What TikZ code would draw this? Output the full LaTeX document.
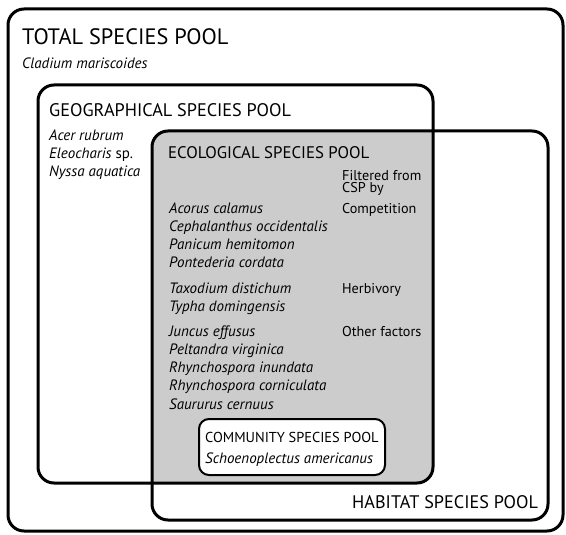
\documentclass[tikz,border=0pt]{standalone}
\usepackage{fontspec}
\setmainfont{PT Sans}
\tikzset{
  poolbox/.style={line width=3pt, rounded corners=16pt},
  bigtitle/.style={anchor=base west, inner sep=0pt, font=\fontsize{22.3}{26}\selectfont},
  pooltitle/.style={anchor=base west, inner sep=0pt, font=\fontsize{18.2}{22}\selectfont},
  smalltitle/.style={anchor=base west, inner sep=0pt, font=\fontsize{16.8}{20}\selectfont},
  species/.style={anchor=base west, inner sep=0pt, font=\fontsize{15}{17}\selectfont\itshape},
  factor/.style={anchor=base west, inner sep=0pt, font=\fontsize{14.2}{16}\selectfont},
}
\begin{document}
\begin{tikzpicture}[x=1pt, y=-1pt]
        \useasboundingbox (0,0) rectangle (566,535);
        % total pool
        \draw [poolbox] (8,9) rectangle (563,531);
        % ecological pool = geographical cut with habitat
        \begin{scope}
          \clip [rounded corners=16pt] (38,85) rectangle (433,483);
          \fill [gray!40, rounded corners=16pt] (152,131) rectangle (548,520);
        \end{scope}
        \draw [poolbox] (38,85) rectangle (433,483);
        \draw [poolbox] (152,131) rectangle (548,520);
        % community pool
        \draw [line width=2pt, rounded corners=10pt, fill=white] (199,419) rectangle (385,475);

        \node [bigtitle] (total) at (22,45) {TOTAL SPECIES POOL};
        \node [species] (cladium) at (22,69) {Cladium mariscoides};

        \node [pooltitle] (geo) at (49,117) {GEOGRAPHICAL SPECIES POOL};
        \node [species] (acer) at (49,141) {Acer rubrum};
        \node [species] (eleo) at (49,159) {Eleocharis \upshape sp.};
        \node [species] (nyssa) at (49,176.5) {Nyssa aquatica};

        \node [smalltitle] (eco) at (168,158) {ECOLOGICAL SPECIES POOL};
        \node [factor] (filt) at (342,180) {Filtered from};
        \node [factor] (csp) at (342,193) {CSP by};
        \node [factor] (comp) at (342,213) {Competition};
        \node [species] (acorus) at (169,213) {Acorus calamus};
        \node [species] (ceph) at (169,231) {Cephalanthus occidentalis};
        \node [species] (panic) at (169,249) {Panicum hemitomon};
        \node [species] (ponte) at (169,267) {Pontederia cordata};

        \node [factor] (herb) at (342,293) {Herbivory};
        \node [species] (taxo) at (169,293) {Taxodium distichum};
        \node [species] (typha) at (169,311) {Typha domingensis};

        \node [factor] (other) at (342,336) {Other factors};
        \node [species] (juncus) at (169,336) {Juncus effusus};
        \node [species] (pelt) at (169,354) {Peltandra virginica};
        \node [species] (rhyi) at (169,372.5) {Rhynchospora inundata};
        \node [species] (rhyc) at (169,390.5) {Rhynchospora corniculata};
        \node [species] (saur) at (169,409) {Saururus cernuus};

        \node [factor, font=\fontsize{14.4}{17}\selectfont] (comm) at (205,442) {COMMUNITY SPECIES POOL};
        \node [species] (schoe) at (205,463) {Schoenoplectus americanus};

        \node [pooltitle] (hab) at (352,508) {HABITAT SPECIES POOL};
\end{tikzpicture}
\end{document}
